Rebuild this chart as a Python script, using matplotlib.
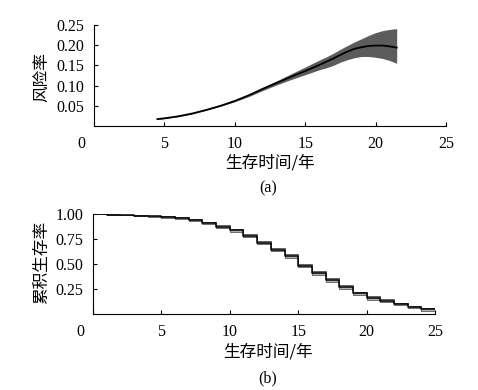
import numpy as np
import matplotlib.pyplot as plt
import matplotlib.transforms as mtransforms

# (a) hazard rate with confidence band
t_haz = [4.5, 5, 6, 7, 8, 9, 10, 11, 12, 13, 14, 15, 16, 16.5, 17, 17.5, 18, 18.5,
         19, 19.5, 20, 20.5, 21, 21.5]
haz = [0.017, 0.019, 0.024, 0.031, 0.040, 0.050, 0.062, 0.076, 0.092, 0.107, 0.122,
       0.136, 0.151, 0.159, 0.167, 0.176, 0.184, 0.191, 0.195, 0.198, 0.199, 0.199,
       0.197, 0.194]
haz_lo = [0.016, 0.018, 0.023, 0.030, 0.039, 0.049, 0.060, 0.073, 0.088, 0.102, 0.115,
          0.127, 0.139, 0.144, 0.150, 0.158, 0.164, 0.169, 0.172, 0.172, 0.170, 0.167,
          0.162, 0.155]
haz_hi = [0.018, 0.020, 0.025, 0.032, 0.041, 0.051, 0.064, 0.079, 0.096, 0.112, 0.129,
          0.146, 0.163, 0.171, 0.180, 0.190, 0.199, 0.208, 0.216, 0.224, 0.231, 0.236,
          0.239, 0.241]

# (b) cumulative survival, one value per year interval [k, k+1)
years = list(range(0, 25))
surv = [1.0, 0.995, 0.99, 0.985, 0.98, 0.972, 0.962, 0.945, 0.91, 0.875, 0.84, 0.783,
        0.715, 0.645, 0.578, 0.485, 0.41, 0.338, 0.272, 0.207, 0.16, 0.13, 0.10, 0.07, 0.045]
surv_se = [0.0, 0.002, 0.003, 0.004, 0.005, 0.007, 0.008, 0.01, 0.012, 0.014, 0.015, 0.016,
           0.017, 0.018, 0.018, 0.019, 0.019, 0.018, 0.018, 0.017, 0.016, 0.015, 0.014,
           0.013, 0.012]

num_font = 'Liberation Serif'
cjk = ['Noto Sans CJK SC', 'DejaVu Sans']

fig = plt.figure(figsize=(4.78, 3.9), dpi=100)
ax1 = fig.add_axes([0.1967, 0.677, 0.7363, 0.259])
ax2 = fig.add_axes([0.1946, 0.195, 0.7154, 0.256])

ax1.fill_between(t_haz, haz_lo, haz_hi, color='#5c5c5c', lw=0)
ax1.plot(t_haz, haz, color='black', lw=1.3)
ax1.set_xlim(0, 25)
ax1.set_ylim(0, 0.25)
ax1.set_xticks([0, 5, 10, 15, 20, 25])
ax1.set_yticks([0.05, 0.10, 0.15, 0.20, 0.25])
ax1.set_yticklabels(['0.05', '0.10', '0.15', '0.20', '0.25'])

x_edges = np.array(years + [25])
s = np.array(surv + [surv[-1]])
se = np.array(surv_se + [surv_se[-1]])
ax2.fill_between(x_edges, s - se, s + se, step='post', facecolor='#b0b0b0', lw=0)
ax2.step(x_edges, s - se, where='post', color='#555555', lw=0.6)
ax2.step(x_edges, s + se, where='post', color='#555555', lw=0.6)
ax2.step(x_edges, s, where='post', color='black', lw=1.1)
ax2.set_xlim(0, 25)
ax2.set_ylim(0, 1.0)
ax2.set_xticks([0, 5, 10, 15, 20, 25])
ax2.set_yticks([0.25, 0.5, 0.75, 1.0])
ax2.set_yticklabels(['0.25', '0.50', '0.75', '1.00'])

for ax in (ax1, ax2):
    for side in ('top', 'right'):
        ax.spines[side].set_visible(False)
    for side in ('left', 'bottom'):
        ax.spines[side].set_linewidth(0.8)
    ax.tick_params(direction='in', length=3, width=0.8, labelsize=11.5)
    ax.tick_params(axis='y', pad=7)
    ax.tick_params(axis='x', pad=7)
    for lab in ax.get_xticklabels() + ax.get_yticklabels():
        lab.set_fontfamily(num_font)
    # the "0" label sits left of the origin
    shift = mtransforms.ScaledTranslation(-13 / 100, 0, fig.dpi_scale_trans)
    lab0 = ax.get_xticklabels()[0]
    lab0.set_transform(lab0.get_transform() + shift)

fig.text(0.088, 0.803, '风险率', rotation=90, ha='center', va='center', fontsize=12, family=cjk)
fig.text(0.088, 0.328, '累积生存率', rotation=90, ha='center', va='center', fontsize=12, family=cjk)
fig.text(0.565, 0.582, '生存时间/年', ha='center', va='center', fontsize=12, family=cjk)
fig.text(0.561, 0.097, '生存时间/年', ha='center', va='center', fontsize=12, family=cjk)
fig.text(0.561, 0.518, '(a)', ha='center', va='center', fontsize=11.5, family=num_font)
fig.text(0.559, 0.031, '(b)', ha='center', va='center', fontsize=11.5, family=num_font)

fig.savefig('out.png', dpi=100)
